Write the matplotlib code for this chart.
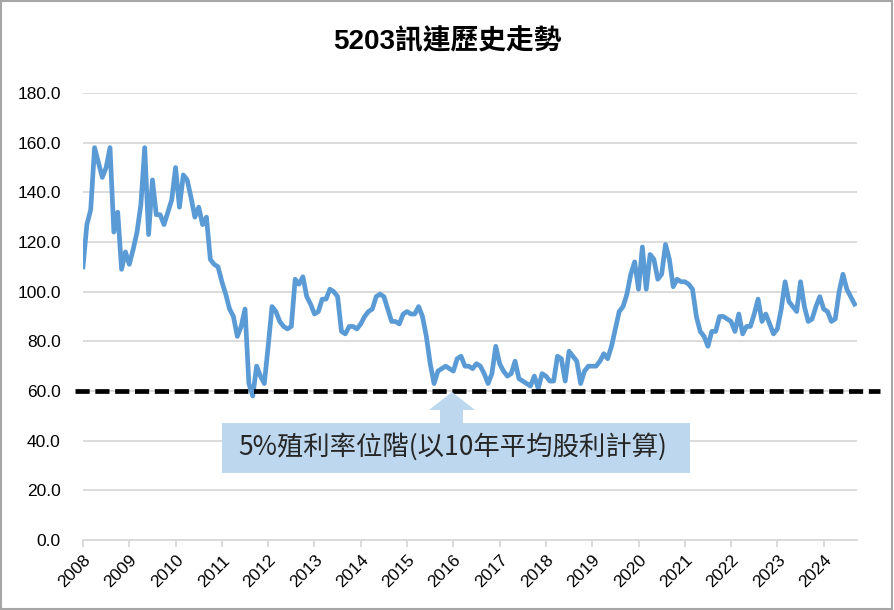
import numpy as np
import matplotlib
matplotlib.use("Agg")
import matplotlib.pyplot as plt
from matplotlib.patches import Rectangle, Polygon

# ---------------- data ----------------
title = "5203訊連歷史走勢"
note = "5%殖利率位階(以10年平均股利計算)"
start_year = 2008
year_labels = [str(y) for y in range(2008, 2025)]
y_ticks = [0, 20, 40, 60, 80, 100, 120, 140, 160, 180]
y_labels = [f"{v:.1f}" for v in y_ticks]
threshold = 60

p2008 = [110, 127, 133, 158, 152, 146, 150, 158, 124, 132, 109, 116]
p2009 = [111, 117, 124, 135, 158, 123, 145, 131, 131, 127, 132, 137]
p2010 = [150, 134, 147, 145, 138, 130, 134, 127, 130, 113, 111, 110]
p2011 = [104, 99, 93, 90, 82, 86, 93, 63, 58, 70, 66, 63]
p2012 = [78, 94, 92, 88, 86, 85, 86, 105, 103, 106, 98, 95]
p2013 = [91, 92, 97, 97, 101, 100, 98, 84, 83, 86, 86, 85]
p2014 = [87, 90, 92, 93, 98, 99, 98, 93, 88, 88, 87, 91]
p2015 = [92, 91, 91, 94, 90, 82, 71, 63, 68, 69, 70, 69]
p2016 = [68, 73, 74, 70, 70, 69, 71, 70, 67, 63, 67, 78]
p2017 = [71, 68, 66, 67, 72, 65, 64, 63, 62, 66, 61, 67]
p2018 = [66, 64, 64, 74, 73, 64, 76, 74, 72, 63, 68, 70]
p2019 = [70, 70, 72, 75, 73, 78, 85, 92, 94, 99, 107, 112]
p2020 = [101, 118, 101, 115, 113, 105, 107, 119, 113, 102, 105, 104]
p2021 = [104, 103, 101, 90, 84, 82, 78, 84, 84, 90, 90, 89]
p2022 = [88, 84, 91, 83, 86, 86, 91, 97, 88, 91, 87, 83]
p2023 = [85, 93, 104, 96, 94, 92, 104, 94, 88, 89, 94, 98]
p2024 = [93, 92, 88, 89, 100, 107, 101, 98, 95]

prices = (p2008 + p2009 + p2010 + p2011 + p2012 + p2013 + p2014 + p2015 +
          p2016 + p2017 + p2018 + p2019 + p2020 + p2021 + p2022 + p2023 + p2024)
t = np.array([start_year + i / 12 for i in range(len(prices))])

# ---------------- figure ----------------
W, H = 894, 610
fig = plt.figure(figsize=(W / 100, H / 100), dpi=100)
fig.patch.set_facecolor("white")

def fx(x):
    return x / W

def fy(y):
    return 1 - y / H

ax = fig.add_axes([fx(83), fy(540), (857 - 83) / W, (540 - 93) / H])

latin = ["Liberation Sans", "Noto Sans CJK TC"]
cjk = ["Noto Sans CJK TC", "DejaVu Sans"]

ax.plot(t, prices, color="#5B9BD5", lw=3.4, solid_joinstyle="round", zorder=3)

ax.set_ylim(0, 180)
ax.set_xlim(2008, 2024.72)
ax.set_yticks(y_ticks)
ax.set_yticklabels(y_labels, fontfamily=latin, fontsize=12.5)
ax.set_xticks(range(2008, 2025))
ax.set_xticklabels(year_labels, fontfamily=latin, fontsize=12.5,
                   rotation=45, ha="right", rotation_mode="anchor")

ax.grid(axis="y", color="#d9d9d9", lw=1.3, zorder=0)
for s in ["top", "right", "left"]:
    ax.spines[s].set_visible(False)
ax.spines["bottom"].set_color("#d9d9d9")
ax.spines["bottom"].set_linewidth(1.3)
ax.tick_params(axis="y", length=0, pad=16, labelcolor="#000000")
ax.tick_params(axis="x", direction="out", length=5, width=1.3,
               color="#d9d9d9", pad=4, labelcolor="#000000")

# dashed 60 line extending beyond plot area
ax.plot([-0.01, 1.03], [threshold, threshold], color="black", lw=3.4,
        dashes=(3, 1.2), dash_capstyle="butt",
        transform=ax.get_yaxis_transform(), clip_on=False, zorder=4)

# title
fig.text(0.5, fy(42), title, ha="center", va="center", fontsize=20,
         fontweight="bold", fontfamily=latin, color="#000000")

# annotation arrow + box
box_color = "#BDD7EE"
arrow = Polygon([(fx(452), fy(392)), (fx(475), fy(410)), (fx(463), fy(410)),
                 (fx(463), fy(424)), (fx(440), fy(424)), (fx(440), fy(410)),
                 (fx(429), fy(410))], closed=True, transform=fig.transFigure,
                facecolor=box_color, edgecolor="none", zorder=5)
fig.patches.append(arrow)
box = Rectangle((fx(222), fy(473)), (690 - 222) / W, (473 - 423) / H,
                transform=fig.transFigure, facecolor=box_color,
                edgecolor="none", zorder=5)
fig.patches.append(box)
fig.text(fx(453), fy(447), note, ha="center", va="center", fontsize=19,
         fontfamily=cjk, color="#262626", zorder=6)

# outer frame
frame = Rectangle((0.001, 0.002), 0.997, 0.996, transform=fig.transFigure,
                  facecolor="none", edgecolor="#a6a6a6", lw=1.5)
fig.patches.append(frame)

fig.savefig("out.png", dpi=100)
